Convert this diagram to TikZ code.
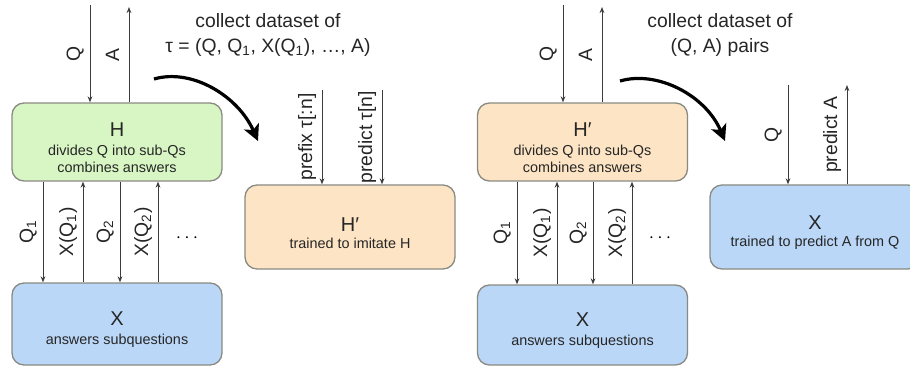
\documentclass[tikz,border=0pt]{standalone}
\usepackage{fontspec}
\setmainfont{Liberation Sans}
\usetikzlibrary{arrows.meta,positioning}
\definecolor{hgreen}{HTML}{D8F6C4}
\definecolor{horange}{HTML}{FCE4C4}
\definecolor{xblue}{HTML}{BAD7F8}
\definecolor{rim}{HTML}{8A8A82}
\definecolor{wire}{HTML}{3C3C3C}
% box heading, with a strut so the text sits a bit low in its box
\newcommand{\boxtitle}[1]{{\fontsize{15}{17}\selectfont\rule{0pt}{19pt}#1}}
\tikzset{
  agent/.style={rectangle,rounded corners=9pt,draw=rim,line width=1pt,align=center,minimum width=157.5pt,minimum height=60pt,inner sep=0pt,font=\fontsize{10.8}{12.8}\selectfont,text=black!85},
  flow/.style={-{Stealth[length=4.5pt,width=3.5pt]},line width=0.7pt,wire},
  wirelabel/.style={font=\fontsize{14.5}{16}\selectfont,rotate=90,anchor=south,inner sep=7pt,text depth=0pt,text=black!85},
  distill/.style={-{Stealth[length=12pt,width=12pt,inset=3pt]},line width=2.4pt,black},
  caption/.style={font=\fontsize{14.5}{19}\selectfont,align=center,text=black!85}
}

\begin{document}
\begin{tikzpicture}[x=0.75pt,y=-0.75pt]
  \useasboundingbox (0,0) rectangle (910,367);
  \clip (0,0) rectangle (910,367);

  % left half: H splits the question, X answers, H' learns from the traces
  \node[agent,fill=hgreen,minimum height=58.5pt] (hsplit) at (117,142) {\boxtitle{H}\\[1pt]divides Q into sub-Qs\\combines answers};
  \node[agent,fill=xblue,minimum height=61.5pt] (xsub) at (117,324) {\boxtitle{X}\\[1pt]answers subquestions};
  \node[agent,fill=horange,minimum height=63pt] (himit) at (350,227) {\boxtitle{H′}\\trained to imitate H};

  \coordinate (qin) at (90,5);
  \coordinate (aout) at (129,7);
  \draw[flow] (qin) -- (qin |- hsplit.north) node[wirelabel,midway] {Q};
  \draw[flow] (aout |- hsplit.north) -- (aout) node[wirelabel,midway] {A};

  \draw[flow] (43,0 |- hsplit.south) -- (43,0 |- xsub.north) node[wirelabel,midway] {Q\textsubscript{1}};
  \draw[flow] (83,0 |- xsub.north) -- (83,0 |- hsplit.south) node[wirelabel,midway] {X(Q\textsubscript{1})};
  \draw[flow] (120,0 |- hsplit.south) -- (120,0 |- xsub.north) node[wirelabel,midway] {Q\textsubscript{2}};
  \draw[flow] (158,0 |- xsub.north) -- (158,0 |- hsplit.south) node[wirelabel,midway] {X(Q\textsubscript{2})};
  \node[font=\fontsize{14}{16}\selectfont] (more) at (187,238) {$\cdots$};

  \coordinate (pfx) at (322,90);
  \coordinate (nxt) at (382,90);
  \draw[flow] (pfx) -- (pfx |- himit.north) node[wirelabel,midway] {prefix τ[:n]};
  \draw[flow] (nxt) -- (nxt |- himit.north) node[wirelabel,midway] {predict τ[n]};

  \node[caption] (data1) at (268,35) {collect dataset of\\τ = (Q, Q\textsubscript{1}, X(Q\textsubscript{1}), …, A)};
  \coordinate (bend1) at (154,79);
  \coordinate (land1) at (258,141);
  \draw[distill] (bend1) .. controls (192,68) and (238,96) .. (land1);

  % right half: H' does the splitting, X learns to answer directly
  \node[agent,fill=horange,minimum height=58.5pt] (hsplit2) at (582.5,142) {\boxtitle{H′}\\[1pt]divides Q into sub-Qs\\combines answers};
  \node[agent,fill=xblue,minimum height=60pt] (xsub2) at (582.5,325) {\boxtitle{X}\\[1pt]answers subquestions};
  \node[agent,fill=xblue,minimum height=63pt] (xdirect) at (815,227) {\boxtitle{X}\\trained to predict A from Q};

  \coordinate (qin2) at (563,5);
  \coordinate (aout2) at (602,7);
  \draw[flow] (qin2) -- (qin2 |- hsplit2.north) node[wirelabel,midway] {Q};
  \draw[flow] (aout2 |- hsplit2.north) -- (aout2) node[wirelabel,midway] {A};

  \draw[flow] (517,0 |- hsplit2.south) -- (517,0 |- xsub2.north) node[wirelabel,midway] {Q\textsubscript{1}};
  \draw[flow] (557,0 |- xsub2.north) -- (557,0 |- hsplit2.south) node[wirelabel,midway] {X(Q\textsubscript{1})};
  \draw[flow] (593,0 |- hsplit2.south) -- (593,0 |- xsub2.north) node[wirelabel,midway] {Q\textsubscript{2}};
  \draw[flow] (632,0 |- xsub2.north) -- (632,0 |- hsplit2.south) node[wirelabel,midway] {X(Q\textsubscript{2})};
  \node[font=\fontsize{14}{16}\selectfont] (more2) at (660,238) {$\cdots$};

  \coordinate (qask) at (788,85);
  \coordinate (ans) at (847,85);
  \draw[flow] (qask) -- (qask |- xdirect.north) node[wirelabel,midway] {Q};
  \draw[flow] (ans |- xdirect.north) -- (ans) node[wirelabel,midway] {predict A};

  \node[caption] (data2) at (720,35) {collect dataset of\\(Q, A) pairs};
  \coordinate (bend2) at (620,81);
  \coordinate (land2) at (725,141);
  \draw[distill] (bend2) .. controls (658,70) and (706,96) .. (land2);
\end{tikzpicture}
\end{document}
